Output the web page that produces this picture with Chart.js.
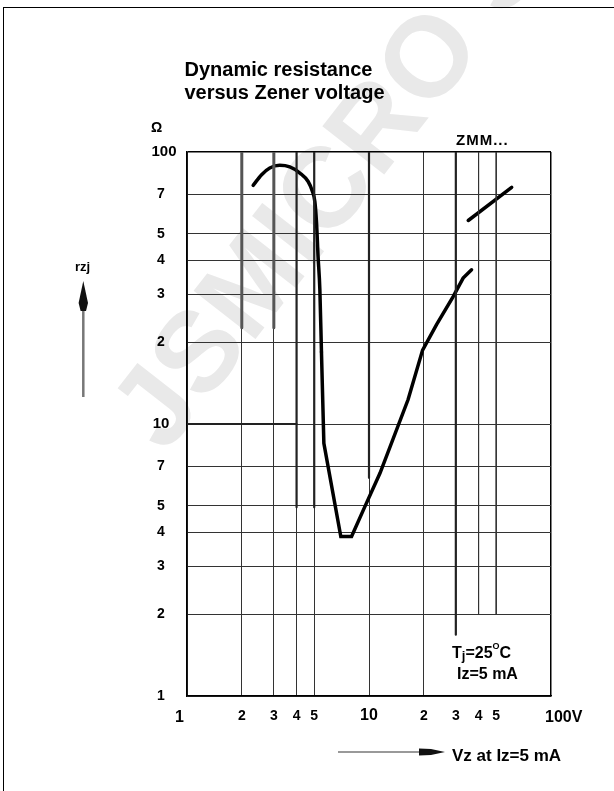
<!DOCTYPE html>
<html>
<head>
<meta charset="utf-8">
<script src="https://cdn.jsdelivr.net/npm/chart.js@4.4.0/dist/chart.umd.min.js"></script>
<style>
  html, body { margin: 0; padding: 0; background: #fff; }
  #wrap { position: relative; width: 614px; height: 791px; overflow: hidden;
          font-family: "Liberation Sans", Arial, sans-serif; font-weight: bold; color: #000; }
  #chart { position: absolute; left: 0; top: 0; }
  #frame { position: absolute; left: 3px; top: 7px; width: 620px; height: 800px;
           border-left: 1.5px solid #000; border-top: 1.5px solid #000; }
  .lbl { position: absolute; white-space: nowrap; line-height: 1; }
  .c { transform: translateX(-50%); }
</style>
</head>
<body>
<div id="wrap">
  <canvas id="chart" width="614" height="791"></canvas>
  <div id="frame"></div>
  <svg width="614" height="791" style="position:absolute;left:0;top:0">
    <line x1="83.3" y1="397" x2="83.3" y2="306" stroke="#777" stroke-width="2.5"/>
    <polygon points="83.3,281 88,303 86,311 80.6,311 78.6,303" fill="#111"/>
    <line x1="338" y1="752" x2="425" y2="752" stroke="#777" stroke-width="1.5"/>
    <polygon points="419,748.5 431,749 445,752 431,755 419,755.5" fill="#111"/>
  </svg>
  <div class="lbl c" style="left:278.5px;top:59px;font-size:20px">Dynamic resistance</div>
  <div class="lbl c" style="left:284.5px;top:82px;font-size:20px">versus Zener voltage</div>
  <div class="lbl" style="left:151px;top:120px;font-size:14px">Ω</div>
  <div class="lbl" style="left:456px;top:132px;font-size:15px;letter-spacing:1px">ZMM...</div>
  <div class="lbl" style="left:75px;top:260px;font-size:13px">rzj</div>
  <div class="lbl" style="left:452px;top:645px;font-size:16px">T<span style="font-size:13px;position:relative;top:2px">j</span>=25<span style="font-size:9px;position:relative;top:-9px">O</span>C</div>
  <div class="lbl" style="left:457px;top:666px;font-size:16px">Iz=5 mA</div>
  <div class="lbl" style="left:452px;top:746.6px;font-size:17px">Vz at Iz=5 mA</div>
</div>
<script>
// Achsen (Vz in V, rzj in Ohm), beide logarithmisch
const xTicks = [1, 2, 3, 4, 5, 10, 20, 30, 40, 50, 100];
const xTickLabels = ["1", "2", "3", "4", "5", "10", "2", "3", "4", "5", "100V"];
const yTicks = [1, 2, 3, 4, 5, 7, 10, 20, 30, 40, 50, 70, 100];
const yTickLabels = ["1", "2", "3", "4", "5", "7", "10", "2", "3", "4", "5", "7", "100"];

// Kurve: Buckel und steiler Abfall
const humpVz = [2.31, 2.57, 2.85, 3.23, 3.67, 4.17, 4.63, 4.89, 5.04, 5.15, 5.25, 5.37, 5.48];
const humpRz = [75.4, 82.5, 87.3, 89.3, 88.1, 83.7, 77.9, 71.6, 65.8, 54.8, 41.3, 31.2, 18.4];
// V-förmiger Teil
const valleyVz = [5.48, 5.65, 7.0, 8.02, 9.49, 11.5, 16.4, 19.7, 23.5, 29.0, 32.9, 36.6];
const valleyRz = [18.4, 8.5, 3.86, 3.86, 4.97, 6.6, 12.3, 18.7, 23.2, 29.4, 34.4, 36.9];
// oberes Stück rechts
const upperVz = [35.1, 60.8];
const upperRz = [56.0, 74.1];

// kräftigere Gitterlinien-Stücke: [Vz, rz von, rz bis]
const heavyCols = [[2, 100, 22.6], [3, 100, 22.6], [4, 100, 4.94], [5, 100, 4.94], [10, 100, 6.34], [30, 100, 1.68]];
// kurze Gitterlinien (enden bei 2 Ohm)
const shortCols = [[40, 100, 2], [50, 100, 2]];
// kräftigere waagerechte Linie bei 10 Ohm: [rz, Vz von, Vz bis]
const heavyRows = [[10, 1, 4]];

const FONT = '"Liberation Sans", Arial, sans-serif';
const pts = (xs, ys) => xs.map((v, i) => ({ x: v, y: ys[i] }));

const datasets = [];
heavyCols.forEach(([v, a, b]) => {
    datasets.push({
        data: [{ x: v, y: a }, { x: v, y: b }],
        borderColor: v < 4 ? "#555" : "#222",
        borderWidth: v < 4 ? 3 : 2.2
    });
});
shortCols.forEach(([v, a, b]) => {
    datasets.push({ data: [{ x: v, y: a }, { x: v, y: b }], borderColor: "#333", borderWidth: 1 });
});
heavyRows.forEach(([r, a, b]) => {
    datasets.push({ data: [{ x: a, y: r }, { x: b, y: r }], borderColor: "#222", borderWidth: 2 });
});
datasets.push({ data: pts(humpVz, humpRz), borderColor: "#000", borderWidth: 3.5, cubicInterpolationMode: "monotone" });
datasets.push({ data: pts(valleyVz, valleyRz), borderColor: "#000", borderWidth: 3.5, tension: 0 });
datasets.push({ data: pts(upperVz, upperRz), borderColor: "#000", borderWidth: 3.5 });
datasets.forEach(d => { d.showLine = true; d.pointRadius = 0; d.borderCapStyle = "round"; });

const watermark = {
    id: "watermark",
    beforeDraw(chart) {
        const ctx = chart.ctx;
        ctx.save();
        ctx.translate(165, 455);
        ctx.rotate(-52 * Math.PI / 180);
        ctx.font = "bold 114px " + FONT;
        ctx.fillStyle = "#e9e9e9";
        ctx.fillText("JSMICRO Semiconductor", 0, 0);
        ctx.restore();
    }
};

const tickLabels = {
    id: "tickLabels",
    afterDraw(chart) {
        const { ctx, chartArea } = chart;
        const xs = chart.scales.x, ys = chart.scales.y;
        ctx.save();
        ctx.fillStyle = "#000";
        ctx.textBaseline = "middle";
        ctx.textAlign = "center";
        yTicks.forEach((v, i) => {
            const lab = yTickLabels[i];
            ctx.font = "bold " + (lab.length > 1 ? 15 : 14) + "px " + FONT;
            ctx.fillText(lab, chartArea.left - (lab.length > 2 ? 23 : 26), ys.getPixelForValue(v));
        });
        xTicks.forEach((v, i) => {
            const lab = xTickLabels[i];
            const px = xs.getPixelForValue(v);
            ctx.font = "bold " + (lab.length > 1 || i === 0 ? 16 : 14) + "px " + FONT;
            if (i === 0) {
                ctx.textAlign = "right";
                ctx.fillText(lab, px - 3, chartArea.bottom + 22);
            } else if (i === xTicks.length - 1) {
                ctx.textAlign = "left";
                ctx.fillText(lab, px - 6, chartArea.bottom + 22);
            } else {
                ctx.textAlign = "center";
                ctx.fillText(lab, px, chartArea.bottom + 20);
            }
        });
        ctx.restore();
    }
};

const edge = (v) => v === 100;

new Chart(document.getElementById("chart"), {
    type: "scatter",
    data: { datasets },
    options: {
        responsive: false,
        animation: false,
        devicePixelRatio: 1,
        layout: { padding: { left: 187, right: 63, top: 152, bottom: 95 } },
        plugins: { legend: { display: false }, tooltip: { enabled: false } },
        scales: {
            x: {
                type: "logarithmic",
                min: 1,
                max: 100,
                afterBuildTicks: (axis) => { axis.ticks = xTicks.map(v => ({ value: v })); },
                ticks: { display: false },
                grid: {
                    drawTicks: false,
                    color: (c) => [30, 40, 50].includes(c.tick && c.tick.value) ? "rgba(0,0,0,0)"
                        : (edge(c.tick && c.tick.value) ? "#000" : "#333"),
                    lineWidth: (c) => edge(c.tick && c.tick.value) ? 1.5 : 1
                },
                border: { color: "#000", width: 1.5 }
            },
            y: {
                type: "logarithmic",
                min: 1,
                max: 100,
                afterBuildTicks: (axis) => { axis.ticks = yTicks.map(v => ({ value: v })); },
                ticks: { display: false },
                grid: {
                    drawTicks: false,
                    color: (c) => edge(c.tick && c.tick.value) ? "#000" : "#333",
                    lineWidth: (c) => edge(c.tick && c.tick.value) ? 1.5 : 1
                },
                border: { color: "#000", width: 1.5 }
            }
        }
    },
    plugins: [watermark, tickLabels]
});
</script>
</body>
</html>
